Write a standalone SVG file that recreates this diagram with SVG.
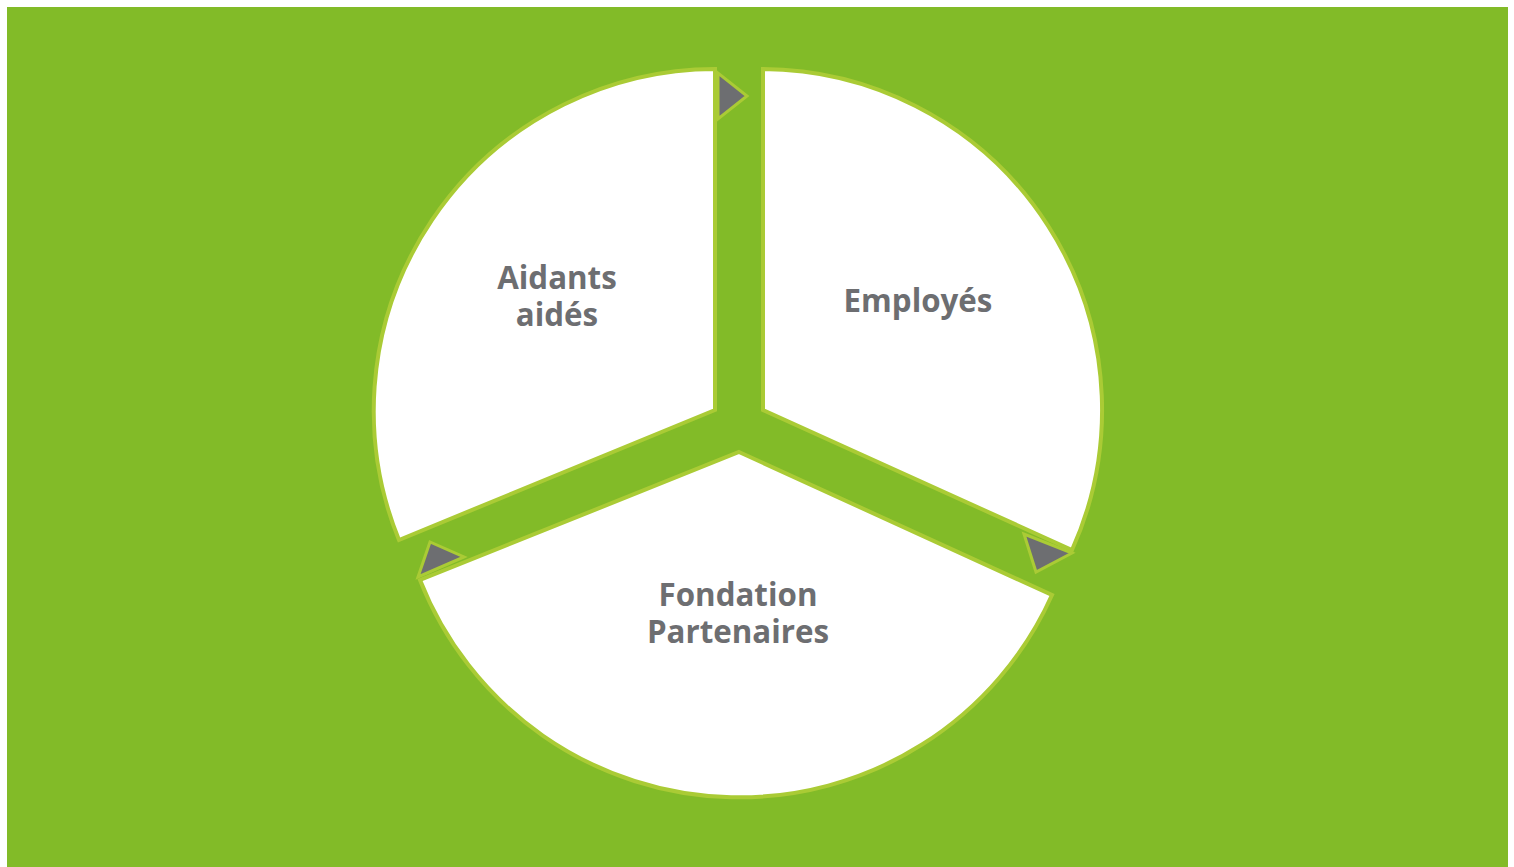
<svg xmlns="http://www.w3.org/2000/svg" width="1514" height="867" viewBox="0 0 1514 867">
<style>
.slice{fill:#ffffff;stroke:#aacb35;stroke-width:4;stroke-linejoin:miter}
.arrow{fill:#6d6e71;stroke:#aacb35;stroke-width:3;stroke-linejoin:miter}
.lbl{font-family:"Open Sans","Liberation Sans",sans-serif;font-weight:bold;font-size:31.3px;fill:#6d6e71;text-anchor:middle}
</style>
<rect x="0" y="0" width="1514" height="867" fill="#ffffff"/>
<rect x="7" y="7" width="1501" height="860" fill="#82bb28"/>
<g id="node-aidants">
<path class="slice" d="M715,410 L399,540 A342,342 0 0 1 715,69 Z"/>
<text class="lbl" x="557" y="289">Aidants</text>
<text class="lbl" x="557" y="326">aidés</text>
</g>
<g id="node-employes">
<path class="slice" d="M763,410 L763,69 A341,341 0 0 1 1072,550 Z"/>
<text class="lbl" x="918" y="312">Employés</text>
</g>
<g id="node-fondation">
<path class="slice" d="M739,452 L1052,595 A343,343 0 0 1 420,580 Z"/>
<text class="lbl" x="738" y="606">Fondation</text>
<text class="lbl" x="738" y="643">Partenaires</text>
</g>
<g id="connectors">
<polygon class="arrow" points="718,73 718,119 747,96"/>
<polygon class="arrow" points="1024,534 1036,572 1072,553"/>
<polygon class="arrow" points="430,542 418,577 464,557"/>
</g>
</svg>
